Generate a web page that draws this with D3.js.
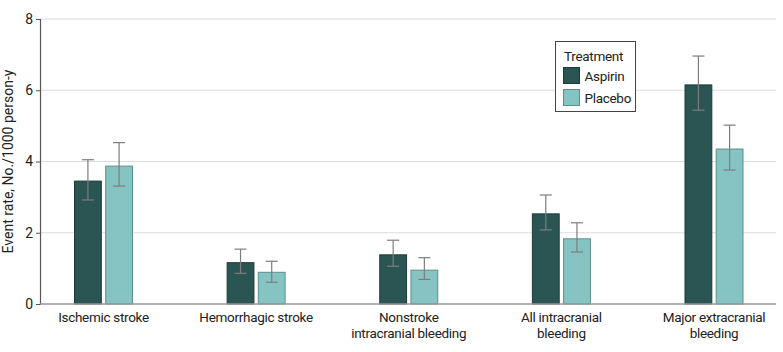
<!DOCTYPE html>
<html>
<head>
<meta charset="utf-8">
<script src="https://cdn.jsdelivr.net/npm/d3@7"></script>
<style>
  body { margin: 0; background: #fff; }
  text { font-family: Roboto, "Liberation Sans", sans-serif; fill: #222; }
</style>
</head>
<body>
<div id="chart"></div>
<script>
// data
let categories = ["Ischemic stroke", "Hemorrhagic stroke", "Nonstroke\nintracranial bleeding", "All intracranial\nbleeding", "Major extracranial\nbleeding"]
let groups = ["Aspirin", "Placebo"]
let aspirinRate = [3.45, 1.16, 1.38, 2.53, 6.15]
let aspirinLow = [2.92, 0.86, 1.06, 2.08, 5.44]
let aspirinHigh = [4.05, 1.54, 1.79, 3.06, 6.96]
let placeboRate = [3.87, 0.89, 0.95, 1.83, 4.35]
let placeboLow = [3.31, 0.61, 0.69, 1.46, 3.76]
let placeboHigh = [4.53, 1.20, 1.30, 2.28, 5.02]
let yTicks = [0, 2, 4, 6, 8]

function draw(){

    let svgWidth = 783
    let svgHeight = 352
    let left = 40, right = 776, top = 19, bottom = 304

    let svg = d3.select("#chart")
        .append("svg")
            .attr("width", svgWidth)
            .attr("height", svgHeight)

    let y = d3.scaleLinear()
        .domain([0, 8])
        .range([bottom, top])

    // category centres
    let x = d3.scalePoint()
        .domain(categories)
        .range([103.5, 714])

    let sub = d3.scaleBand()
        .domain(groups)
        .range([-29, 29])
        .paddingInner(0.14)

    let colour = d3.scaleOrdinal()
        .domain(groups)
        .range(["#2b5553", "#86c4c3"])
    let strokeColour = d3.scaleOrdinal()
        .domain(groups)
        .range(["#1d3a39", "#5b8f8d"])

    // gridlines
    svg.append("g")
        .selectAll("line")
        .data(yTicks.filter(d => d > 0))
        .join("line")
        .attr("x1", left)
        .attr("x2", right)
        .attr("y1", d => y(d))
        .attr("y2", d => y(d))
        .attr("stroke", "#dcdcdc")
        .attr("stroke-width", 1.2)

    // y axis
    let yAxis = svg.append("g")
        .attr("transform", `translate(${left},0)`)
        .call(d3.axisLeft(y).tickValues(yTicks).tickSize(4).tickPadding(3).tickFormat(d3.format("d")))
    yAxis.select(".domain").attr("stroke", "#555").attr("stroke-width", 1.2)
    yAxis.selectAll(".tick line").attr("stroke", "#555")
    yAxis.selectAll(".tick text")
        .style("font-family", "Roboto, sans-serif")
        .style("font-size", "14px")
        .attr("fill", "#222")

    // y label
    svg.append("text")
        .attr("transform", `translate(13, ${(top + bottom) / 2}) rotate(-90)`)
        .attr("text-anchor", "middle")
        .style("font-size", "14px")
        .text("Event rate, No./1000 person-y")

    let rows = []
    categories.forEach(function(c, i){
        rows.push({cat: c, group: "Aspirin", v: aspirinRate[i], lo: aspirinLow[i], hi: aspirinHigh[i]})
        rows.push({cat: c, group: "Placebo", v: placeboRate[i], lo: placeboLow[i], hi: placeboHigh[i]})
    })

    // bars
    svg.append("g")
        .selectAll("rect")
        .data(rows)
        .join("rect")
        .attr("x", d => x(d.cat) + sub(d.group))
        .attr("y", d => y(d.v))
        .attr("width", sub.bandwidth())
        .attr("height", d => bottom - y(d.v))
        .attr("fill", d => colour(d.group))
        .attr("stroke", d => strokeColour(d.group))
        .attr("stroke-width", 1)

    // error bars
    let err = svg.append("g")
        .attr("stroke", "#7d7d7d")
        .attr("stroke-width", 1.2)
    let cx = d => x(d.cat) + sub(d.group) + sub.bandwidth() / 2
    err.selectAll(".whisker")
        .data(rows)
        .join("line")
        .attr("x1", cx).attr("x2", cx)
        .attr("y1", d => y(d.lo)).attr("y2", d => y(d.hi))
    err.selectAll(".cap-hi")
        .data(rows)
        .join("line")
        .attr("x1", d => cx(d) - 6).attr("x2", d => cx(d) + 6)
        .attr("y1", d => y(d.hi)).attr("y2", d => y(d.hi))
    err.selectAll(".cap-lo")
        .data(rows)
        .join("line")
        .attr("x1", d => cx(d) - 6).attr("x2", d => cx(d) + 6)
        .attr("y1", d => y(d.lo)).attr("y2", d => y(d.lo))

    // baseline
    svg.append("line")
        .attr("x1", left).attr("x2", right)
        .attr("y1", bottom).attr("y2", bottom)
        .attr("stroke", "#999")
        .attr("stroke-width", 1.5)

    // category labels
    let labels = svg.append("g")
        .selectAll("text")
        .data(categories)
        .join("text")
        .attr("text-anchor", "middle")
        .attr("transform", d => `translate(${x(d)}, 322)`)
        .style("font-size", "13.5px")
        .style("letter-spacing", "-0.3px")
    labels.selectAll("tspan")
        .data(d => d.split("\n"))
        .join("tspan")
        .attr("x", 0)
        .attr("dy", (d, i) => i == 0 ? 0 : 16)
        .text(d => d)

    // legend
    let legend = svg.append("g")
        .attr("transform", "translate(555.5, 41.5)")
    legend.append("rect")
        .attr("width", 80)
        .attr("height", 70)
        .attr("fill", "#fff")
        .attr("stroke", "#444")
        .attr("stroke-width", 1)
    legend.append("text")
        .attr("x", 8.5)
        .attr("y", 19)
        .style("font-size", "13.5px")
        .style("letter-spacing", "-0.3px")
        .text("Treatment")
    let items = legend.selectAll(".item")
        .data(groups)
        .join("g")
        .attr("transform", (d, i) => `translate(8, ${26 + i * 22})`)
    items.append("rect")
        .attr("width", 16)
        .attr("height", 16)
        .attr("fill", d => colour(d))
        .attr("stroke", d => strokeColour(d))
    items.append("text")
        .attr("x", 21)
        .attr("y", 13)
        .style("font-size", "13.5px")
        .style("letter-spacing", "-0.3px")
        .text(d => d)
}

draw()
</script>
</body>
</html>
